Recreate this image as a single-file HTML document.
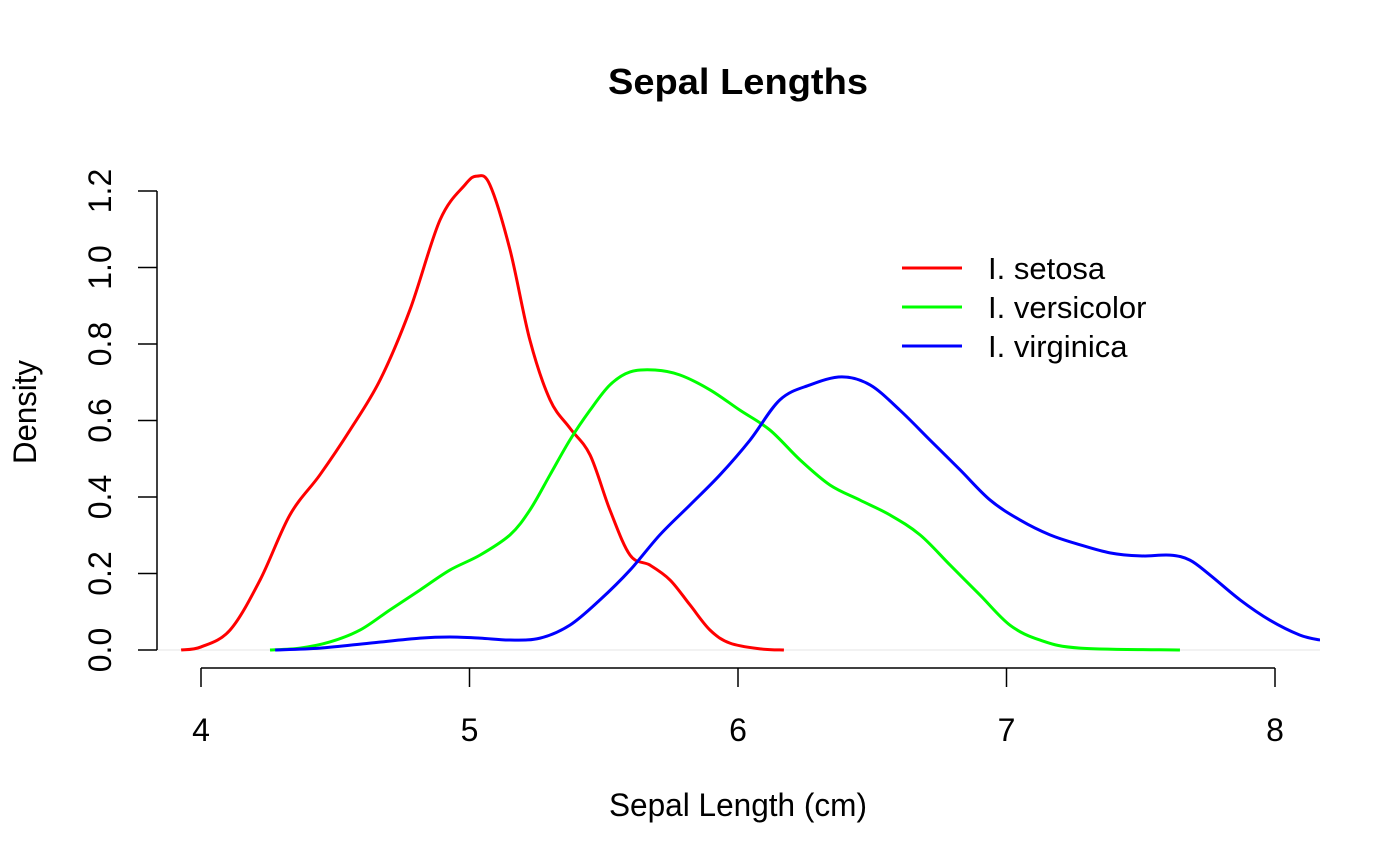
<!DOCTYPE html>
<html><head><meta charset="utf-8"><style>
html,body{margin:0;padding:0;background:#fff;}
svg{display:block;font-family:"Liberation Sans",Arial,sans-serif;}
</style></head><body>
<svg id="chart" width="1400" height="865" viewBox="0 0 1400 865">
<defs><clipPath id="plotclip"><rect x="157" y="150" width="1163" height="520"/></clipPath></defs>
<text x="738" y="94" text-anchor="middle" font-size="36" font-weight="bold" textLength="260" lengthAdjust="spacingAndGlyphs">Sepal Lengths</text>
<text x="738" y="816" text-anchor="middle" font-size="32" textLength="258" lengthAdjust="spacingAndGlyphs">Sepal Length (cm)</text>
<text transform="translate(36,412) rotate(-90)" text-anchor="middle" font-size="32" textLength="104" lengthAdjust="spacingAndGlyphs">Density</text>
<g id="axes"></g>
<g id="series" clip-path="url(#plotclip)"></g>
<g id="legend"></g>
</svg>
<script>
const xTicks = [4, 5, 6, 7, 8];
const yTicks = [0.0, 0.2, 0.4, 0.6, 0.8, 1.0, 1.2];
const seriesNames = ["I. setosa", "I. versicolor", "I. virginica"];
const seriesColors = ["#ff0000", "#00ff00", "#0000ff"];
const setosaX = [3.926,4.0,4.108,4.220,4.331,4.443,4.555,4.667,4.778,4.890,4.983,5.028,5.076,5.151,5.225,5.300,5.374,5.449,5.523,5.598,5.672,5.747,5.821,5.896,5.970,6.082,6.171];
const setosaY = [0,0.008,0.052,0.183,0.353,0.458,0.575,0.706,0.889,1.124,1.216,1.239,1.216,1.046,0.810,0.654,0.580,0.510,0.366,0.248,0.222,0.183,0.118,0.052,0.018,0.003,0];
const versicolorX = [4.257,4.369,4.480,4.592,4.704,4.816,4.927,5.039,5.151,5.225,5.300,5.374,5.449,5.523,5.598,5.691,5.784,5.896,6.007,6.119,6.231,6.343,6.454,6.566,6.678,6.790,6.901,7.013,7.125,7.274,7.646];
const versicolorY = [0,0.005,0.021,0.052,0.105,0.157,0.209,0.248,0.301,0.366,0.458,0.549,0.627,0.693,0.727,0.732,0.719,0.680,0.627,0.575,0.497,0.431,0.392,0.353,0.301,0.222,0.144,0.065,0.026,0.005,0];
const virginicaX = [4.276,4.443,4.629,4.816,4.927,5.039,5.151,5.263,5.374,5.486,5.598,5.709,5.821,5.933,6.045,6.156,6.268,6.387,6.492,6.603,6.715,6.827,6.939,7.050,7.162,7.274,7.385,7.497,7.609,7.683,7.758,7.870,7.981,8.093,8.168];
const virginicaY = [0,0.005,0.018,0.031,0.034,0.031,0.026,0.031,0.065,0.131,0.209,0.301,0.379,0.458,0.549,0.654,0.693,0.714,0.693,0.627,0.549,0.471,0.392,0.340,0.301,0.275,0.254,0.246,0.248,0.235,0.196,0.131,0.078,0.039,0.026];

const NS = "http://www.w3.org/2000/svg";
function sx(v){ return 201 + (v - 4) * 268.5; }
function sy(v){ return 650 - v * 382.5; }
function mk(tag, attrs, parent){ const e=document.createElementNS(NS,tag); for(const k in attrs) e.setAttribute(k,attrs[k]); parent.appendChild(e); return e; }

const axes = document.getElementById('axes');
const zl = mk('line',{x1:157,x2:1320,y1:sy(0),y2:sy(0),stroke:'#e6e6e6','stroke-width':1},axes);


const ya = mk('line',{x1:157,x2:157,y1:sy(yTicks[yTicks.length-1]),y2:sy(yTicks[0]),stroke:'#000','stroke-width':1.5},axes);


yTicks.forEach(t=>{
  const l = mk('line',{x1:138,x2:157,y1:sy(t),y2:sy(t),stroke:'#000','stroke-width':1.5},axes);
  
  
  const tx = mk('text',{transform:`translate(111,${sy(t)}) rotate(-90)`,'text-anchor':'middle','font-size':32},axes);
  tx.textContent = t.toFixed(1);
  
  
});
const xa = mk('line',{x1:sx(xTicks[0]),x2:sx(xTicks[xTicks.length-1]),y1:668,y2:668,stroke:'#000','stroke-width':1.5},axes);


xTicks.forEach(t=>{
  const l = mk('line',{x1:sx(t),x2:sx(t),y1:668,y2:687,stroke:'#000','stroke-width':1.5},axes);
  
  
  const tx = mk('text',{x:sx(t),y:741,'text-anchor':'middle','font-size':32},axes);
  tx.textContent = String(t);
  
  
});

const series = document.getElementById('series');
const allX = [setosaX, versicolorX, virginicaX];
const allY = [setosaY, versicolorY, virginicaY];
const slugs = ['setosa','versicolor','virginica'];
allX.forEach((xs,i)=>{
  const ys = allY[i];
  const pts = xs.map((x,j)=>[sx(x),sy(ys[j])]);
  let d = `M${pts[0][0]},${pts[0][1]}`;
  for(let j=0;j<pts.length-1;j++){
    const p0=pts[Math.max(0,j-1)],p1=pts[j],p2=pts[j+1],p3=pts[Math.min(pts.length-1,j+2)];
    const c1=[p1[0]+(p2[0]-p0[0])/6,p1[1]+(p2[1]-p0[1])/6];
    const c2=[p2[0]-(p3[0]-p1[0])/6,p2[1]-(p3[1]-p1[1])/6];
    d += ` C${c1[0]},${c1[1]} ${c2[0]},${c2[1]} ${p2[0]},${p2[1]}`;
  }
  const p = mk('path',{d:d,fill:'none',stroke:seriesColors[i],'stroke-width':3,'stroke-linejoin':'round'},series);
  
  
});

const legend = document.getElementById('legend');
seriesNames.forEach((n,i)=>{
  const y = 268 + i*39;
  const l = mk('line',{x1:902,x2:962,y1:y,y2:y,stroke:seriesColors[i],'stroke-width':3},legend);
  
  
  const t = mk('text',{x:988,y:y+11,'font-size':31},legend);
  t.textContent = n;
  
  
});
</script>
</body></html>
